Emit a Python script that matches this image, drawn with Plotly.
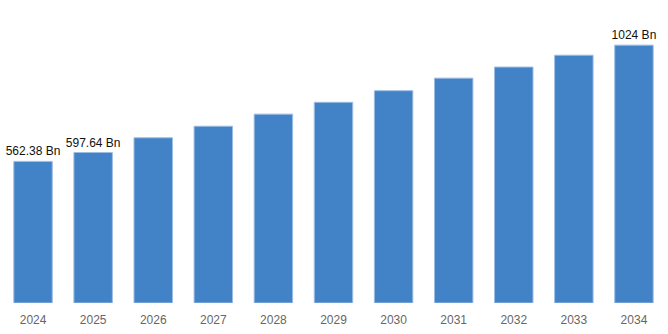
import plotly.graph_objects as go

years = ["2024", "2025", "2026", "2027", "2028", "2029", "2030", "2031", "2032", "2033", "2034"]
values = [562.38, 597.64, 656, 702, 750, 797, 843, 893, 937, 984, 1024]
labels = ["562.38 Bn", "597.64 Bn", "", "", "", "", "", "", "", "", "1024 Bn"]

fig = go.Figure(go.Bar(
    x=years, y=values, text=labels, textposition="outside", constraintext="none",
    textfont=dict(family="Liberation Sans, Arial, sans-serif", size=12, color="#111"),
    marker=dict(color="#4282c6", line=dict(color="#9cbde3", width=1)),
    cliponaxis=False,
))
fig.update_layout(
    width=668, height=334,
    margin=dict(l=3, r=4, t=25, b=31),
    paper_bgcolor="white", plot_bgcolor="white",
    bargap=0.36, showlegend=False,
    xaxis=dict(type="category", showgrid=False, showline=False, ticks="", ticklabelstandoff=8,
               tickfont=dict(family="Liberation Sans, Arial, sans-serif", size=12, color="#666")),
    yaxis=dict(range=[0, 1104], visible=False, showgrid=False),
)
fig.write_html("out.html")
